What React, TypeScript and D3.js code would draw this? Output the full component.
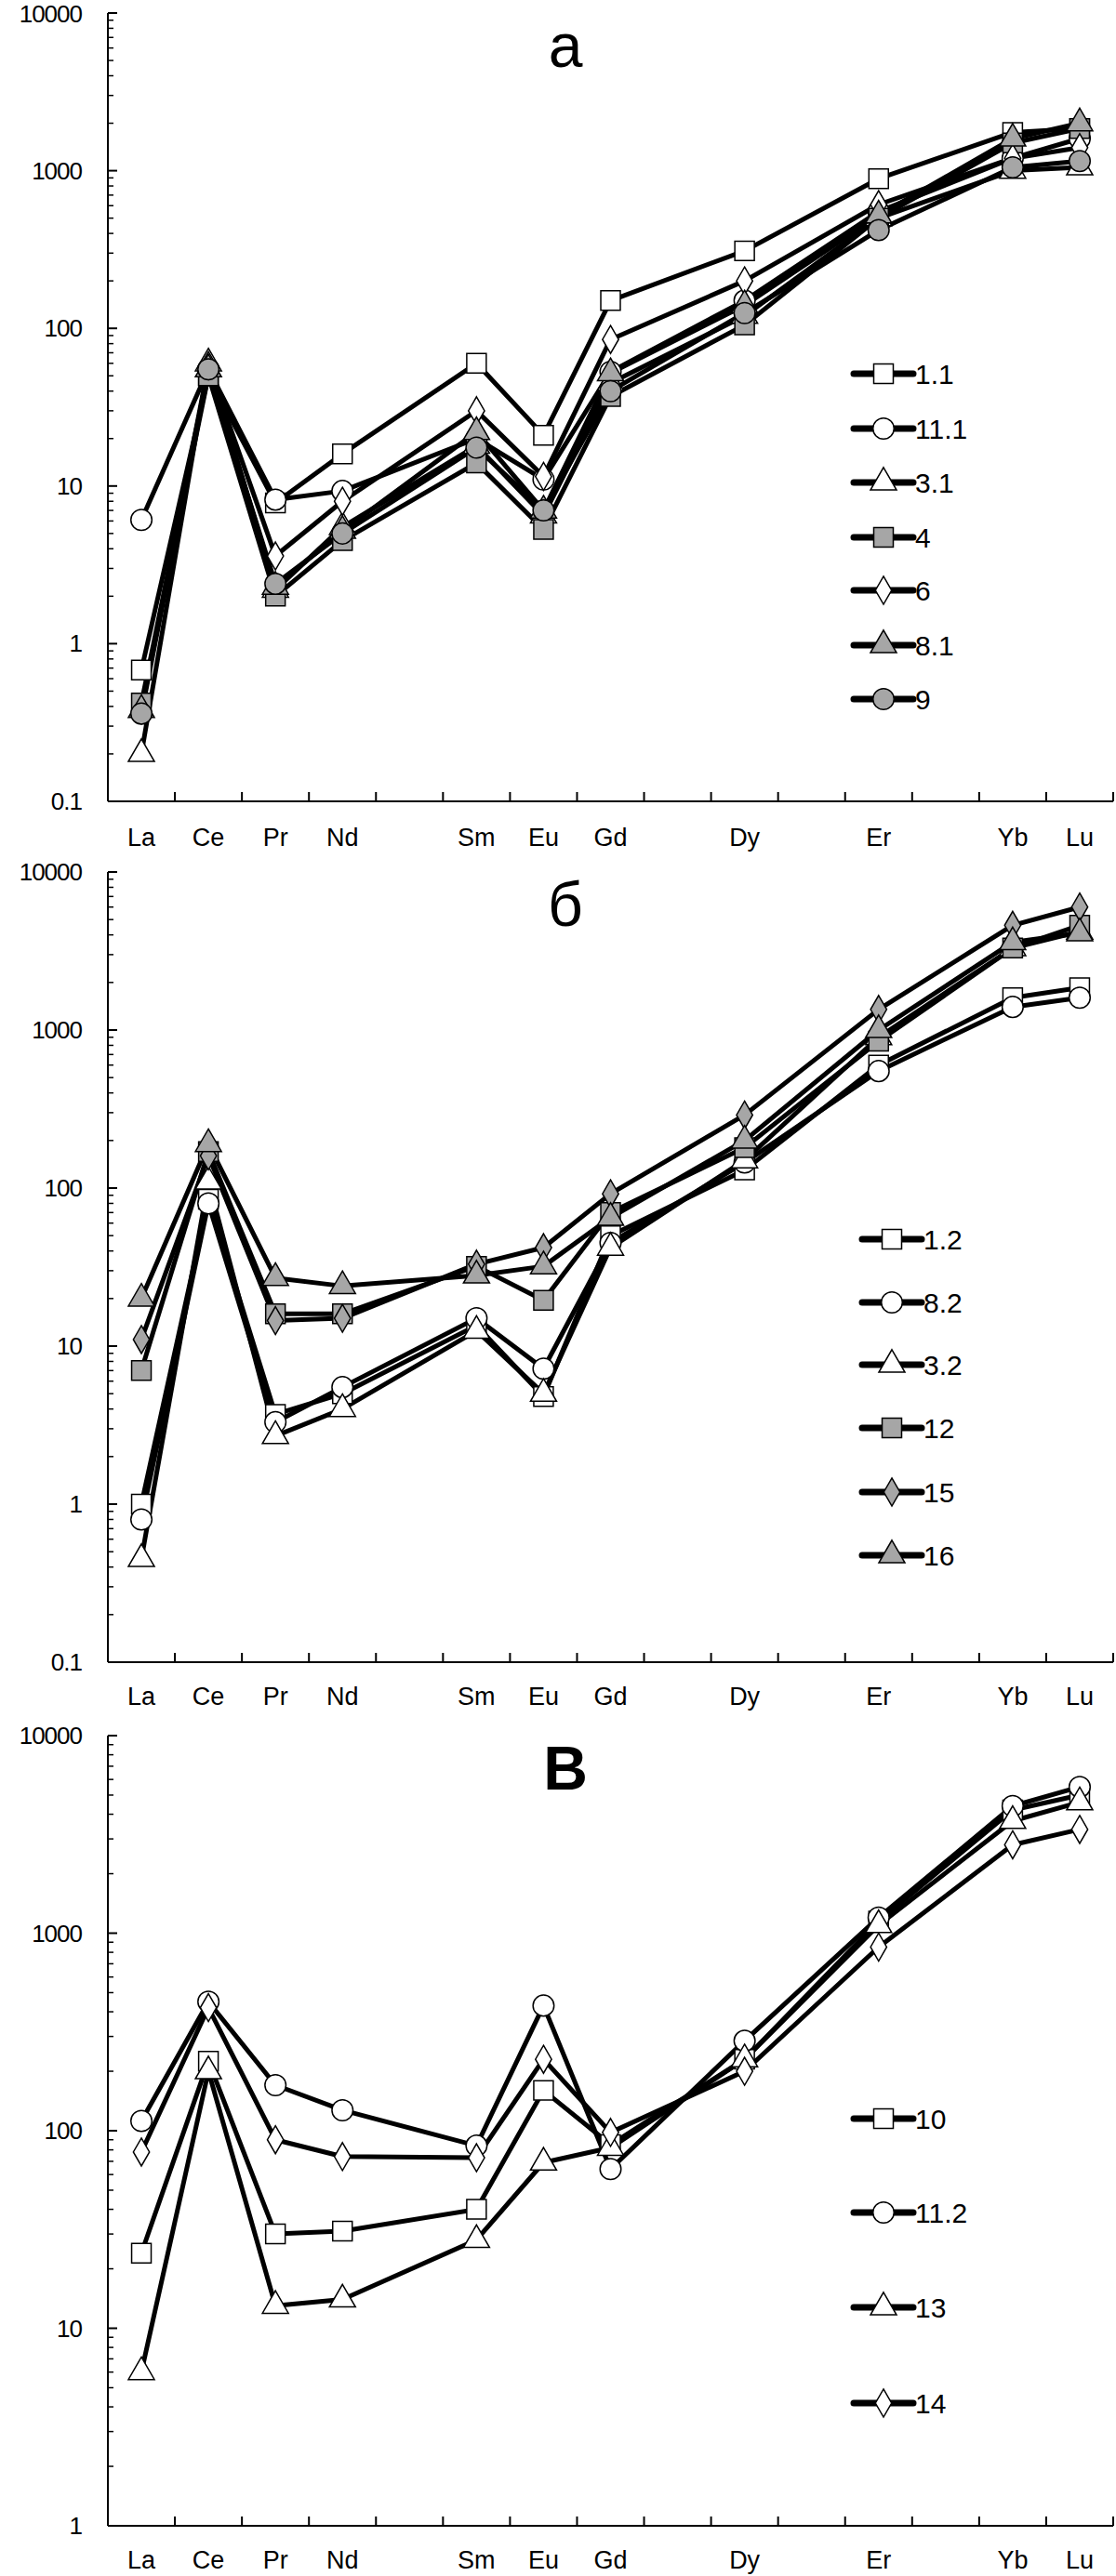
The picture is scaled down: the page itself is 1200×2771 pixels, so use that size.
import React, { useEffect, useRef } from "react";
import * as d3 from "d3";

const elements = ["La", "Ce", "Pr", "Nd", "Sm", "Eu", "Gd", "Dy", "Er", "Yb", "Lu"];
const elementPos = [0.5, 1.5, 2.5, 3.5, 5.5, 6.5, 7.5, 9.5, 11.5, 13.5, 14.5];

const seriesA_names = ["1.1", "11.1", "3.1", "4", "6", "8.1", "9"];
const seriesA_markers = ["square", "circle", "triangle", "square", "diamond", "triangle", "circle"];
const seriesA_fills = ["white", "white", "white", "gray", "white", "gray", "gray"];
const seriesA_values = [
  [0.68, 50, 7.8, 16, 60, 21, 150, 310, 890, 1750, 1850],
  [6.1, 55, 8.2, 9.3, 20, 11, 53, 150, 550, 1200, 1600],
  [0.2, 60, 2.2, 5.5, 18, 6.5, 45, 120, 500, 1000, 1050],
  [0.42, 50, 2.0, 4.5, 14, 5.3, 37, 105, 500, 1500, 1850],
  [0.38, 58, 3.6, 8, 30, 11.5, 85, 200, 610, 1200, 1400],
  [0.38, 55, 2.3, 5.2, 22, 7, 52, 140, 520, 1600, 2000],
  [0.36, 55, 2.4, 5, 17.5, 7, 40, 125, 420, 1050, 1150],
];

const seriesB_names = ["1.2", "8.2", "3.2", "12", "15", "16"];
const seriesB_markers = ["square", "circle", "triangle", "square", "diamond", "triangle"];
const seriesB_fills = ["white", "white", "white", "gray", "gray", "gray"];
const seriesB_values = [
  [1.0, 85, 3.7, 5, 13.5, 4.8, 50, 130, 600, 1600, 1850],
  [0.8, 80, 3.3, 5.5, 15, 7.2, 45, 145, 550, 1400, 1600],
  [0.45, 110, 2.7, 4, 12.5, 5, 42, 150, 900, 3300, 4200],
  [7, 170, 16, 16, 32, 19.5, 70, 180, 850, 3300, 4600],
  [11, 160, 14.5, 15, 33, 42, 92, 290, 1350, 4600, 6000],
  [20, 190, 27, 24, 28, 32, 65, 200, 1000, 3600, 4100],
];

const seriesC_names = ["10", "11.2", "13", "14"];
const seriesC_markers = ["square", "circle", "triangle", "diamond"];
const seriesC_fills = ["white", "white", "white", "white"];
const seriesC_values = [
  [24, 225, 30, 31, 40, 160, 85, 230, 1150, 4200, 5000],
  [112, 450, 170, 127, 84, 430, 64, 285, 1200, 4400, 5500],
  [6, 200, 13, 14, 28, 69, 82, 230, 1100, 3700, 4600],
  [78, 420, 90, 74, 73, 230, 98, 200, 850, 2800, 3350],
];

const FONT = "'Liberation Sans', Arial, sans-serif";

function symbolFor(m: string) {
  if (m === "square") return d3.symbolSquare;
  if (m === "circle") return d3.symbolCircle;
  if (m === "triangle") return d3.symbolTriangle;
  return d3.symbolDiamond;
}
function sizeFor(m: string) {
  if (m === "square") return 440;
  if (m === "circle") return 400;
  if (m === "triangle") return 340;
  return 260;
}

type Panel = {
  title: string;
  bold: boolean;
  yTop: number;
  yBottom: number;
  yMin: number;
  labelY: number;
  names: string[];
  markers: string[];
  fills: string[];
  values: number[][];
  legendX: number;
  legendY: number[];
};

const panels: Panel[] = [
  { title: "а", bold: false, yTop: 14, yBottom: 862, yMin: 0.1, labelY: 900,
    names: seriesA_names, markers: seriesA_markers, fills: seriesA_fills, values: seriesA_values,
    legendX: 918, legendY: [402, 461, 519, 578, 635, 694, 752] },
  { title: "б", bold: false, yTop: 938, yBottom: 1788, yMin: 0.1, labelY: 1824,
    names: seriesB_names, markers: seriesB_markers, fills: seriesB_fills, values: seriesB_values,
    legendX: 927, legendY: [1333, 1401, 1468, 1536, 1605, 1673] },
  { title: "В", bold: true, yTop: 1867, yBottom: 2717, yMin: 1, labelY: 2753,
    names: seriesC_names, markers: seriesC_markers, fills: seriesC_fills, values: seriesC_values,
    legendX: 918, legendY: [2279, 2380, 2482, 2585] },
];

export default function App() {
  const ref = useRef<SVGSVGElement>(null);
  useEffect(() => {
    const svg = d3.select(ref.current);
    svg.selectAll("*").remove();
    const x = d3.scaleLinear().domain([0, 15]).range([116, 1197]);
    const fillColor = (f: string) => (f === "gray" ? "#a6a6a6" : "#ffffff");

    panels.forEach((p) => {
      const y = d3.scaleLog().domain([p.yMin, 10000]).range([p.yBottom, p.yTop]);
      const g = svg.append("g");
      g.append("line").attr("x1", 116).attr("x2", 116).attr("y1", p.yTop).attr("y2", p.yBottom)
        .attr("stroke", "#000").attr("stroke-width", 2);
      g.append("line").attr("x1", 116).attr("x2", 1197).attr("y1", p.yBottom).attr("y2", p.yBottom)
        .attr("stroke", "#000").attr("stroke-width", 2);
      const lo = Math.log10(p.yMin);
      for (let e = lo; e <= 4; e++) {
        const base = Math.pow(10, e);
        g.append("line").attr("x1", 116).attr("x2", 126).attr("y1", y(base)).attr("y2", y(base))
          .attr("stroke", "#000").attr("stroke-width", 2);
        g.append("text").attr("x", 88).attr("y", Math.max(y(base) + 9, 24)).attr("text-anchor", "end")
          .attr("font-family", FONT).attr("font-size", 26).attr("letter-spacing", -1).text(d3.format("")(base));
        if (e < 4) {
          for (let k = 2; k <= 9; k++) {
            const v = base * k;
            g.append("line").attr("x1", 116).attr("x2", 122).attr("y1", y(v)).attr("y2", y(v))
              .attr("stroke", "#000").attr("stroke-width", 1.5);
          }
        }
      }
      for (let i = 1; i <= 15; i++) {
        g.append("line").attr("x1", x(i)).attr("x2", x(i)).attr("y1", p.yBottom).attr("y2", p.yBottom - 10)
          .attr("stroke", "#000").attr("stroke-width", 2);
      }
      elements.forEach((el, i) => {
        g.append("text").attr("x", x(elementPos[i])).attr("y", p.labelY + 10).attr("text-anchor", "middle")
          .attr("font-family", FONT).attr("font-size", 27).text(el);
      });
      g.append("text").attr("x", 608).attr("y", p.yTop + 58).attr("text-anchor", "middle")
        .attr("font-family", FONT).attr("font-size", 66).attr("font-weight", p.bold ? "bold" : "normal")
        .text(p.title);
      const line = d3.line<number>().x((_, i) => x(elementPos[i])).y((v) => y(v));
      p.values.forEach((vals) => {
        g.append("path").attr("d", line(vals) as string).attr("fill", "none")
          .attr("stroke", "#000").attr("stroke-width", 5).attr("stroke-linejoin", "round");
      });
      p.values.forEach((vals, si) => {
        const sym = d3.symbol().type(symbolFor(p.markers[si])).size(sizeFor(p.markers[si]));
        vals.forEach((v, i) => {
          g.append("path").attr("d", sym() as string)
            .attr("transform", `translate(${x(elementPos[i])},${y(v)})`)
            .attr("fill", fillColor(p.fills[si])).attr("stroke", "#000").attr("stroke-width", 1.5);
        });
      });
      p.names.forEach((n, si) => {
        const ly = p.legendY[si];
        g.append("line").attr("x1", p.legendX).attr("x2", p.legendX + 64).attr("y1", ly).attr("y2", ly)
          .attr("stroke", "#000").attr("stroke-width", 7).attr("stroke-linecap", "round");
        const sym = d3.symbol().type(symbolFor(p.markers[si])).size(sizeFor(p.markers[si]));
        g.append("path").attr("d", sym() as string).attr("transform", `translate(${p.legendX + 32},${ly})`)
          .attr("fill", fillColor(p.fills[si])).attr("stroke", "#000").attr("stroke-width", 1.5);
        g.append("text").attr("x", p.legendX + 66).attr("y", ly + 11).attr("font-family", FONT)
          .attr("font-size", 30).text(n);
      });
    });
  }, []);
  return (
    <svg ref={ref} width={1200} height={2771}
      style={{ position: "absolute", left: 0, top: 0, background: "#fff" }} />
  );
}
